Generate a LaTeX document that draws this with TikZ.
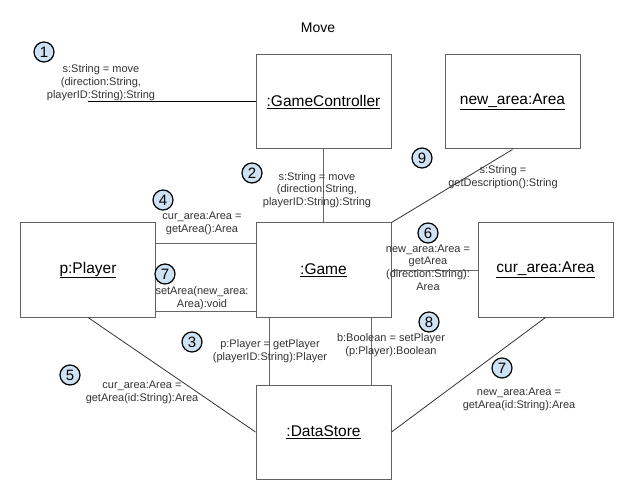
\documentclass[tikz,border=0pt]{standalone}
\usepackage{fontspec}
\setmainfont{Liberation Sans}
\definecolor{numfill}{RGB}{207,226,243}
\begin{document}
\begin{tikzpicture}[x=1bp,y=-1bp,
  objbox/.style={draw=black!62,line width=1bp,minimum width=135bp,minimum height=94bp,inner sep=0,
    font=\fontsize{15.5bp}{18bp}\selectfont},
  lbl/.style={align=center,inner sep=0,text=black!80,font=\fontsize{11bp}{12.8bp}\selectfont},
  num/.style={circle,draw=black,line width=1.2bp,fill=numfill,minimum size=20bp,inner sep=0,
    font=\fontsize{15bp}{15bp}\selectfont},
  conn/.style={draw=black!60,line width=1bp}]
\useasboundingbox (0,0) rectangle (640,490);
\node[font=\fontsize{14bp}{16bp}\selectfont] (title) at (318,28) {Move};
% boxes
\node[objbox] (gc) at (323.5,102) {\underline{:GameController}};
\node[objbox] (na) at (512.5,102) {\underline{new\_area:Area}};
\node[objbox] (g) at (323.5,270) {\underline{:Game}};
\node[objbox] (p) at (88,270) {\underline{p:Player}};
\node[objbox] (ca) at (545.5,270) {\underline{cur\_area:Area}};
\node[objbox] (ds) at (323.5,432) {\underline{:DataStore}};
% connectors
\coordinate (start) at (88,102);
\draw[line width=1bp,black] (start) -- (gc.west);
\draw[conn] (gc.south) -- (g.north);
\draw[conn] ([yshift=26bp]p.east) -- ([yshift=26bp]g.west);
\draw[conn] ([yshift=-41bp]p.east) -- ([yshift=-41bp]g.west);
\draw[conn] ([xshift=-54.5bp]g.south) -- ([xshift=-54.5bp]ds.north);
\draw[conn] ([xshift=47.5bp]g.south) -- ([xshift=47.5bp]ds.north);
\draw[conn] (g.east) -- (ca.west);
\draw[conn,draw=black!80,line width=0.8bp] (g.north east) -- (na.south);
\draw[conn,draw=black!80,line width=0.8bp] (p.south) -- (ds.west);
\draw[conn,draw=black!80,line width=0.8bp] (ca.south) -- (ds.east);
% labels
\node[lbl] (l1) at (101,82.5) {s:String = move\\(direction:String,\\playerID:String):String};
\node[lbl] (l2) at (317,190) {s:String = move\\(direction:String,\\playerID:String):String};
\node[lbl] (l4) at (202,223.5) {cur\_area:Area =\\getArea():Area};
\node[lbl] (l7a) at (202,298.5) {setArea(new\_area:\\Area):void};
\node[lbl] (l3) at (270,351.5) {p:Player = getPlayer\\(playerID:String):Player};
\node[lbl] (l8) at (391,345) {b:Boolean = setPlayer\\(p:Player):Boolean};
\node[lbl] (l5) at (142,392.5) {cur\_area:Area =\\getArea(id:String):Area};
\node[lbl] (l7b) at (519,399.5) {new\_area:Area =\\getArea(id:String):Area};
\node[lbl] (l6) at (428,267.5) {new\_area:Area =\\getArea\\(direction:String):\\Area};
\node[lbl] (l9) at (503,177.5) {s:String =\\getDescription():String};
% numbers
\node[num] (n1) at (44,52) {1};
\node[num] (n2) at (252,173) {2};
\node[num] (n3) at (192,342) {3};
\node[num] (n4) at (163,200) {4};
\node[num] (n5) at (70,375) {5};
\node[num] (n6) at (428,233) {6};
\node[num] (n7a) at (165,274) {7};
\node[num] (n7b) at (502,368) {7};
\node[num] (n8) at (429,322) {8};
\node[num] (n9) at (422,158) {9};
\end{tikzpicture}
\end{document}
